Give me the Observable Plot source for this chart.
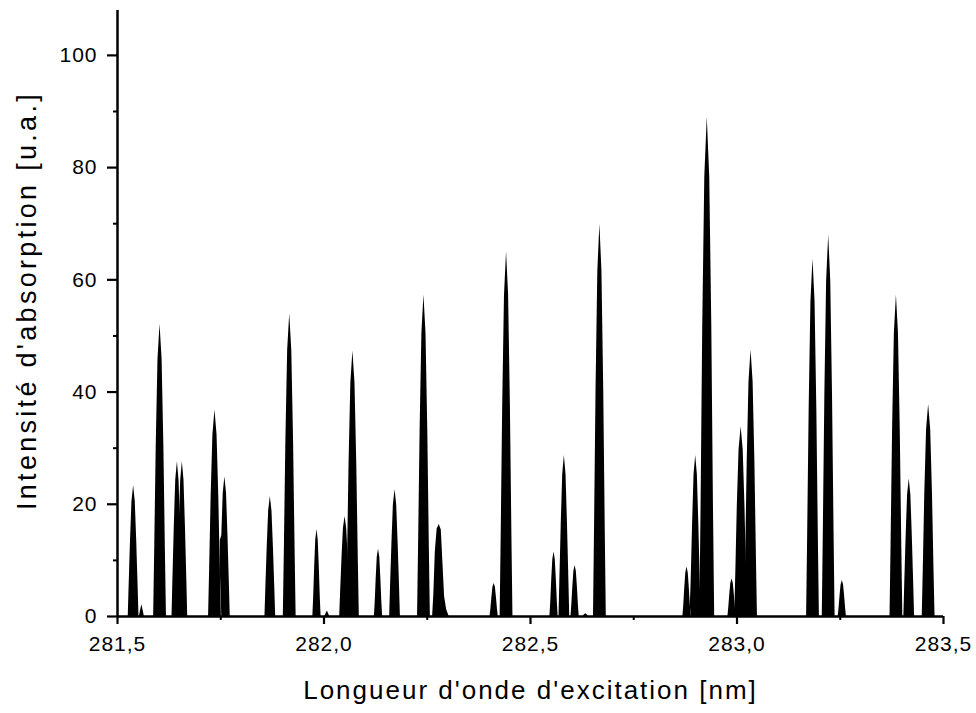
<!DOCTYPE html>
<html>
<head>
<meta charset="utf-8">
<script src="https://cdn.jsdelivr.net/npm/d3@7"></script>
<script src="https://cdn.jsdelivr.net/npm/@observablehq/plot@0.6"></script>
<style>
  html, body { margin: 0; padding: 0; background: #fff; }
  #chart svg { display: block; letter-spacing: 1px; }
  #chart .xtitle text { letter-spacing: 2px; }
  #chart .ytitle text { letter-spacing: 3.3px; }
</style>
</head>
<body>
<div id="chart"></div>
<script>
// Excitation wavelength (nm) of the points outlining each absorption line (one row per line)
const wavelength = [
  [281.526, 281.528, 281.5315, 281.535, 281.539, 281.543, 281.5465, 281.550, 281.552],
  [281.553, 281.556, 281.559, 281.562, 281.565],
  [281.5875, 281.590, 281.5937, 281.598, 281.603, 281.608, 281.6123, 281.616, 281.6185],
  [281.632, 281.634, 281.6375, 281.641, 281.645, 281.649, 281.6525, 281.656, 281.658],
  [281.644, 281.646, 281.6495, 281.653, 281.657, 281.661, 281.6645, 281.668, 281.670],
  [281.7205, 281.723, 281.7267, 281.731, 281.736, 281.741, 281.7453, 281.749, 281.7515],
  [281.747, 281.749, 281.7525, 281.756, 281.760, 281.764, 281.7675, 281.771, 281.773],
  [281.857, 281.859, 281.8625, 281.866, 281.870, 281.874, 281.8775, 281.881, 281.883],
  [281.9015, 281.904, 281.9077, 281.912, 281.917, 281.922, 281.9263, 281.930, 281.9325],
  [281.973, 281.975, 281.9775, 281.980, 281.983, 281.986, 281.9885, 281.991, 281.993],
  [282.002, 282.005, 282.008, 282.011, 282.014],
  [282.038, 282.040, 282.0435, 282.047, 282.051, 282.055, 282.0585, 282.062, 282.064],
  [282.0545, 282.057, 282.0607, 282.065, 282.070, 282.075, 282.0793, 282.083, 282.0855],
  [282.122, 282.124, 282.1265, 282.129, 282.132, 282.135, 282.1375, 282.140, 282.142],
  [282.159, 282.161, 282.1645, 282.168, 282.172, 282.176, 282.1795, 282.183, 282.185],
  [282.2265, 282.229, 282.2327, 282.237, 282.242, 282.247, 282.2513, 282.255, 282.2575],
  [282.263, 282.266, 282.2695, 282.274, 282.279, 282.284, 282.288, 282.292, 282.297, 282.303],
  [282.402, 282.404, 282.4065, 282.409, 282.412, 282.415, 282.4175, 282.420, 282.422],
  [282.4265, 282.429, 282.4327, 282.437, 282.442, 282.447, 282.4513, 282.455, 282.4575],
  [282.547, 282.549, 282.5515, 282.554, 282.557, 282.560, 282.5625, 282.565, 282.567],
  [282.569, 282.571, 282.5745, 282.578, 282.582, 282.586, 282.5895, 282.593, 282.595],
  [282.598, 282.600, 282.6025, 282.605, 282.608, 282.611, 282.6135, 282.616, 282.618],
  [282.628, 282.631, 282.634, 282.637, 282.640],
  [282.6525, 282.655, 282.6587, 282.663, 282.668, 282.673, 282.6773, 282.681, 282.6835],
  [282.869, 282.871, 282.8735, 282.876, 282.879, 282.882, 282.8845, 282.887, 282.889],
  [282.887, 282.889, 282.8925, 282.896, 282.900, 282.904, 282.9075, 282.911, 282.913],
  [282.910, 282.913, 282.917, 282.922, 282.928, 282.934, 282.939, 282.943, 282.946],
  [282.978, 282.980, 282.9825, 282.985, 282.988, 282.991, 282.9935, 282.996, 282.998],
  [282.9945, 282.997, 283.0007, 283.005, 283.010, 283.015, 283.0193, 283.023, 283.0255],
  [283.0185, 283.021, 283.0247, 283.029, 283.034, 283.039, 283.0433, 283.047, 283.0495],
  [283.1685, 283.171, 283.1747, 283.179, 283.184, 283.189, 283.1933, 283.197, 283.1995],
  [283.2065, 283.209, 283.2127, 283.217, 283.222, 283.227, 283.2313, 283.235, 283.2375],
  [283.245, 283.247, 283.2495, 283.252, 283.255, 283.258, 283.2605, 283.263, 283.265],
  [283.3705, 283.373, 283.3767, 283.381, 283.386, 283.391, 283.3953, 283.399, 283.4015],
  [283.404, 283.406, 283.4095, 283.413, 283.417, 283.421, 283.4245, 283.428, 283.430],
  [283.4485, 283.451, 283.4547, 283.459, 283.464, 283.469, 283.4733, 283.477, 283.4795]
];

// Absorption intensity (u.a.) at those points
const intensity = [
  [0, 5.1, 13.5, 20.5, 23.3, 20.5, 13.5, 5.1, 0],
  [0, 1.1, 2.1, 1.1, 0],
  [0, 11.5, 30.2, 45.8, 52.1, 45.8, 30.2, 11.5, 0],
  [0, 6.1, 16.0, 24.3, 27.6, 24.3, 16.0, 6.1, 0],
  [0, 6.1, 16.0, 24.3, 27.6, 24.3, 16.0, 6.1, 0],
  [0, 8.1, 21.3, 32.4, 36.8, 32.4, 21.3, 8.1, 0],
  [0, 5.5, 14.4, 21.9, 24.9, 21.9, 14.4, 5.5, 0],
  [0, 4.7, 12.4, 18.8, 21.4, 18.8, 12.4, 4.7, 0],
  [0, 11.9, 31.3, 47.4, 53.9, 47.4, 31.3, 11.9, 0],
  [0, 3.4, 9.0, 13.6, 15.5, 13.6, 9.0, 3.4, 0],
  [0, 0.5, 1.0, 0.5, 0],
  [0, 3.9, 10.3, 15.7, 17.8, 15.7, 10.3, 3.9, 0],
  [0, 10.4, 27.4, 41.6, 47.3, 41.6, 27.4, 10.4, 0],
  [0, 2.6, 7.0, 10.6, 12.0, 10.6, 7.0, 2.6, 0],
  [0, 5.0, 13.1, 19.9, 22.6, 19.9, 13.1, 5.0, 0],
  [0, 12.6, 33.2, 50.4, 57.3, 50.4, 33.2, 12.6, 0],
  [0, 4.0, 11.5, 15.6, 16.4, 15.4, 9.5, 3.5, 1.2, 0],
  [0, 1.3, 3.4, 5.2, 5.9, 5.2, 3.4, 1.3, 0],
  [0, 14.3, 37.7, 57.2, 65.0, 57.2, 37.7, 14.3, 0],
  [0, 2.5, 6.7, 10.1, 11.5, 10.1, 6.7, 2.5, 0],
  [0, 6.3, 16.6, 25.3, 28.7, 25.3, 16.6, 6.3, 0],
  [0, 2.0, 5.3, 8.0, 9.1, 8.0, 5.3, 2.0, 0],
  [0, 0.3, 0.5, 0.3, 0],
  [0, 15.4, 40.5, 61.5, 69.9, 61.5, 40.5, 15.4, 0],
  [0, 1.9, 5.1, 7.7, 8.8, 7.7, 5.1, 1.9, 0],
  [0, 6.3, 16.6, 25.3, 28.7, 25.3, 16.6, 6.3, 0],
  [0, 19.6, 51.6, 78.3, 89.0, 78.3, 51.6, 19.6, 0],
  [0, 1.5, 3.9, 5.9, 6.7, 5.9, 3.9, 1.5, 0],
  [0, 7.4, 19.6, 29.7, 33.8, 29.7, 19.6, 7.4, 0],
  [0, 10.5, 27.6, 41.8, 47.5, 41.8, 27.6, 10.5, 0],
  [0, 14.0, 36.9, 56.1, 63.7, 56.1, 36.9, 14.0, 0],
  [0, 15.0, 39.4, 59.8, 68.0, 59.8, 39.4, 15.0, 0],
  [0, 1.4, 3.7, 5.6, 6.4, 5.6, 3.7, 1.4, 0],
  [0, 12.6, 33.2, 50.4, 57.3, 50.4, 33.2, 12.6, 0],
  [0, 5.4, 14.2, 21.6, 24.5, 21.6, 14.2, 5.4, 0],
  [0, 8.3, 21.9, 33.3, 37.8, 33.3, 21.9, 8.3, 0]
];

const xTicks = [281.5, 282.0, 282.5, 283.0, 283.5];
const xMinorTicks = [281.75, 282.25, 282.75, 283.25];
const yTicks = [0, 20, 40, 60, 80, 100];
const yMinorTicks = [10, 30, 50, 70, 90];
const xTitle = "Longueur d'onde d'excitation [nm]";
const yTitle = "Intensité d'absorption [u.a.]";

const spectrum = wavelength.flatMap((row, p) =>
  row.map((w, i) => ({peak: p, wavelength: w, intensity: intensity[p][i]}))
);

const fmt = d => d.toFixed(1).replace(".", ",");

const chart = Plot.plot({
  width: 976,
  height: 713,
  marginLeft: 117,
  marginRight: 33,
  marginTop: 10,
  marginBottom: 97,
  style: {fontFamily: "'Liberation Sans', Arial, sans-serif", fontSize: "21px", color: "#000", background: "#fff"},
  x: {domain: [281.5, 283.5]},
  y: {domain: [0, 108]},
  marks: [
    Plot.areaY(spectrum, {x: "wavelength", y: "intensity", z: "peak", fill: "#000", curve: "linear"}),
    Plot.axisX({ticks: xTicks, tickFormat: fmt, tickSize: 8, tickPadding: 12, strokeWidth: 2.2, label: null}),
    Plot.axisX({ticks: xMinorTicks, tickFormat: null, text: null, tickSize: 4, strokeWidth: 2, label: null}),
    Plot.axisY({ticks: yTicks, tickSize: 10, tickPadding: 10, strokeWidth: 2.2, label: null}),
    Plot.axisY({ticks: yMinorTicks, text: null, tickSize: 4, strokeWidth: 2, label: null}),
    Plot.ruleX([281.5], {stroke: "#000", strokeWidth: 2.5}),
    Plot.ruleY([0], {stroke: "#000", strokeWidth: 2.5}),
    Plot.text([xTitle], {frameAnchor: "bottom", dy: 82, fontSize: 26, className: "xtitle", fill: "#000"}),
    Plot.text([yTitle], {frameAnchor: "left", textAnchor: "middle", rotate: -90, dx: -90, dy: -13, fontSize: 27, className: "ytitle", fill: "#000"})
  ]
});

document.getElementById("chart").appendChild(chart);
</script>
</body>
</html>
